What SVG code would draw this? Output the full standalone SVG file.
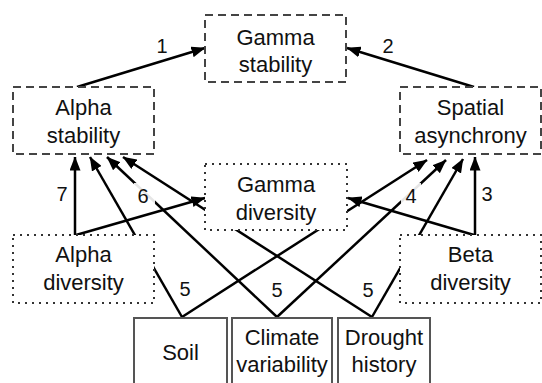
<svg xmlns="http://www.w3.org/2000/svg" width="542" height="383" viewBox="0 0 542 383">
<defs>
<marker id="ah" viewBox="0 0 14 11" refX="13.5" refY="5.5" markerWidth="14" markerHeight="11" markerUnits="userSpaceOnUse" orient="auto">
<path d="M0,0 L14,5.5 L0,11 z" fill="#000"/>
</marker>
<style>
.c{fill:none;stroke:#000;stroke-width:2.5;marker-end:url(#ah)}
.p{fill:none;stroke:#000;stroke-width:2.5}
.dash{fill:#fff;stroke:#444;stroke-width:2;stroke-dasharray:8,5}
.dot{fill:#fff;stroke:#333;stroke-width:2;stroke-dasharray:2,5}
.sol{fill:#fff;stroke:#555;stroke-width:2}
text{font-family:"Liberation Sans",Arial,sans-serif;font-size:22px;fill:#111;text-anchor:middle}
.n{font-size:20px}
.bg{fill:#fff;opacity:0.9}
</style>
</defs>
<rect width="542" height="383" fill="#fff"/>
<g id="connectors">
<path class="c" d="M77,87 L205,48"/>
<path class="c" d="M474,87 L347,48"/>
<path class="c" d="M75,235 L75,157"/>
<path class="c" d="M76,235 L205,198"/>
<path class="c" d="M182,317 L90,157"/>
<path class="c" d="M277,317 L107,157"/>
<path class="c" d="M372,317 L123,157"/>
<path class="c" d="M182,317 L427,160"/>
<path class="c" d="M277,317 L446,160"/>
<path class="c" d="M372,317 L463,159"/>
<path class="c" d="M475,235 L475,157"/>
<path class="c" d="M474,235 L348,198"/>
</g>
<g id="labels">
<text class="n" x="162" y="53">1</text>
<text class="n" x="388" y="53">2</text>
<text class="n" x="62" y="201">7</text>
<rect class="bg" x="134" y="183" width="21" height="23"/>
<text class="n" x="143" y="203">6</text>
<rect class="bg" x="401" y="183" width="20" height="23"/>
<text class="n" x="411" y="203">4</text>
<text class="n" x="487" y="201">3</text>
<text class="n" x="185" y="296">5</text>
<text class="n" x="277" y="297">5</text>
<text class="n" x="368" y="297">5</text>
</g>
<g id="gamma-stability">
<rect class="dash" x="205" y="15" width="141" height="67"/>
<text x="275.5" y="45">Gamma</text>
<text x="275.5" y="72">stability</text>
</g>
<g id="alpha-stability">
<rect class="dash" x="13" y="87" width="141" height="67"/>
<text x="83.5" y="115">Alpha</text>
<text x="83.5" y="143">stability</text>
</g>
<g id="spatial-asynchrony">
<rect class="dash" x="400" y="87" width="141" height="67"/>
<text x="470.5" y="115">Spatial</text>
<text x="470.5" y="143">asynchrony</text>
</g>
<g id="gamma-diversity">
<rect class="dot" x="205" y="164" width="142" height="66"/>
<text x="276" y="192">Gamma</text>
<text x="276" y="220">diversity</text>
</g>
<g id="alpha-diversity">
<rect class="dot" x="13" y="235" width="141" height="68"/>
<text x="83.5" y="262">Alpha</text>
<text x="83.5" y="290">diversity</text>
</g>
<g id="beta-diversity">
<rect class="dot" x="400" y="235" width="141" height="68"/>
<text x="470.5" y="262">Beta</text>
<text x="470.5" y="290">diversity</text>
</g>
<g id="soil">
<rect class="sol" x="134" y="318" width="93" height="80"/>
<text x="180.5" y="360">Soil</text>
</g>
<g id="climate-variability">
<rect class="sol" x="232" y="318" width="100" height="80"/>
<text x="282" y="345">Climate</text>
<text x="282" y="372">variability</text>
</g>
<g id="drought-history">
<rect class="sol" x="338" y="318" width="92" height="80"/>
<text x="384" y="345">Drought</text>
<text x="384" y="372">history</text>
</g>
</svg>
